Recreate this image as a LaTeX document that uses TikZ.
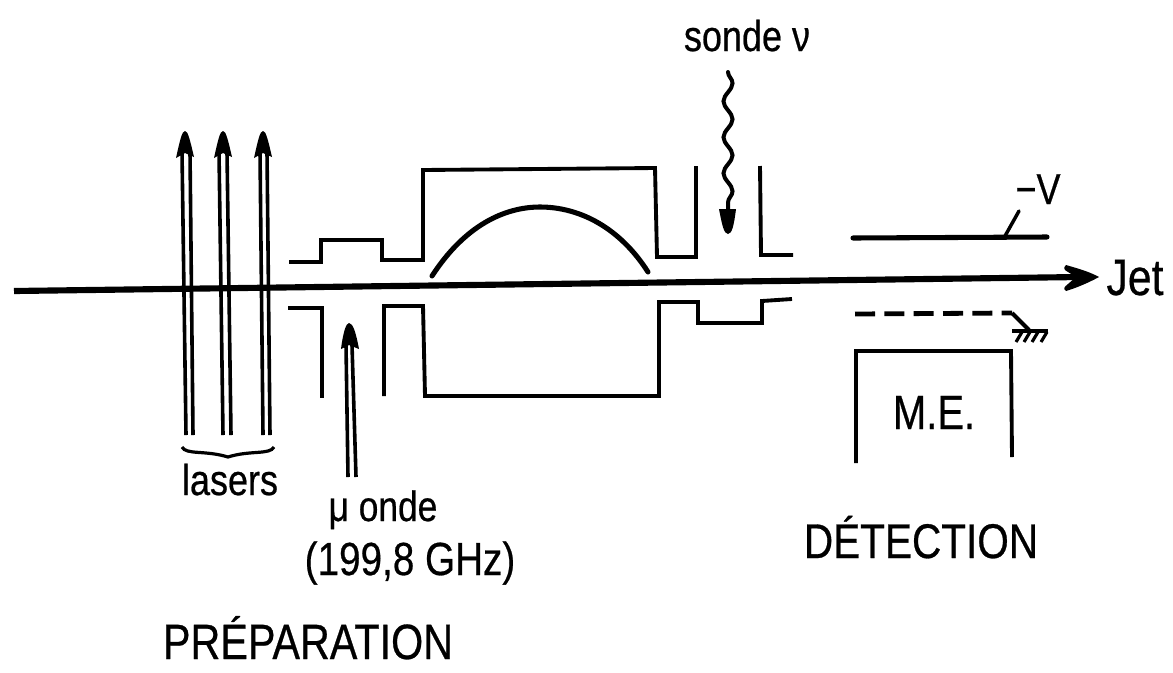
\documentclass[tikz,border=0pt]{standalone}
\usepackage{fontspec}
\setmainfont[FakeBold=0.6]{Liberation Sans}
\usetikzlibrary{decorations.pathmorphing}
\tikzset{
 wall/.style={line width=2.9pt,line join=miter},
 beam/.style={line width=2.7pt},
 thickline/.style={line width=3.8pt,line cap=round},
 lab/.style={inner sep=0,anchor=base,text=black,transform shape,yscale=1.2}
}
\begin{document}
\begin{tikzpicture}[x=0.75pt,y=-0.75pt]
\useasboundingbox (0,0) rectangle (1173,672);
\fill[white] (0,0) rectangle (1173,672);
% axis
\coordinate (js) at (14,291);
\coordinate (je) at (1099,277);
\draw[line width=4.6pt] (js) -- (1080,277);
\fill (je) .. controls (1088,271) and (1076,268) .. (1066,265) .. controls (1063,268) and (1064,270) .. (1068,272) -- (1076,277) -- (1068,284) .. controls (1064,287) and (1063,289) .. (1066,291) .. controls (1076,288) and (1088,283) .. (je) -- cycle;
% laser arrows
\foreach \n/\xa/\xb/\xc/\xd/\tip in {a/186/193/182/190/185,b/223/231/219/227/223,c/263/270/260/267/263}{
 \coordinate (\n1) at (\xa,435);
 \coordinate (\n2) at (\xb,435);
 \coordinate (\n3) at (\xc,152);
 \coordinate (\n4) at (\xd,152);
 \draw[beam] (\n1) -- (\n3);
 \draw[beam] (\n2) -- (\n4);
 \fill (\tip,131) .. controls (\tip+3,131) and (\tip+5,140) .. (\tip+9,157) -- (\tip,153) -- (\tip-9,158) .. controls (\tip-5,140) and (\tip-3,131) .. (\tip,131) -- cycle;
}
% upper electrodes
\draw[wall] (289,262) -- (321,262) -- (321,240) -- (382,240) -- (382,260) -- (423,260) -- (423,170) -- (655,168) -- (657,257) -- (696,257) -- (696,166);
\draw[wall] (760,166) -- (761,255) -- (793,255);
% lower electrodes
\draw[wall] (288,308) -- (322,308) -- (322,398);
\draw[wall] (384,396) -- (384,306) -- (423,306) -- (425,396) -- (659,396) -- (659,302) -- (698,302) -- (698,323) -- (762,323) -- (762,301) -- (792,299);
% microwave arrow
\coordinate (m1) at (348,477);
\coordinate (m2) at (356,477);
\draw[beam] (m1) -- (346,345);
\draw[beam] (m2) -- (352,345);
\fill (349,323) .. controls (353,323) and (356,333) .. (359,349) -- (349,345) -- (341,349) .. controls (343,333) and (346,323) .. (349,323) -- cycle;
% arc
\draw[line width=3.8pt,line cap=round] (432,276) .. controls (465,225) and (505,207) .. (540,207) .. controls (580,207) and (620,228) .. (648,272);
% probe wave
\coordinate (w1) at (728,72);
\coordinate (w2) at (728,212);
\draw[line width=3pt,line cap=round,decorate,decoration={snake,amplitude=3.4pt,segment length=27pt,post length=3pt}] (w1) -- (w2);
\fill (728,234) .. controls (724,234) and (722,225) .. (719,209) -- (736,209) .. controls (734,225) and (732,234) .. (728,234) -- cycle;
% detection plates
\coordinate (p1) at (853,238);
\coordinate (p2) at (1047,237);
\draw[thickline] (p1) -- (p2);
\coordinate (t1) at (1005,236);
\coordinate (t2) at (1019,211);
\draw[line width=2.6pt,line cap=round] (t1) -- (t2);
\coordinate (d1) at (855,314);
\coordinate (d2) at (1012,313);
\coordinate (d3) at (1029,330);
\draw[line width=3.6pt,dash pattern=on 15pt off 7pt] (d1) -- (d2);
\draw[line width=3pt] (d2) -- (d3);
\coordinate (g1) at (1012,331);
\coordinate (g2) at (1048,331);
\draw[line width=3.2pt] (g1) -- (g2);
\foreach \x in {1022,1030,1038,1047}{\draw[line width=2.4pt] (\x,332) -- (\x-6,342);}
% M.E. box
\draw[wall] (856,463) -- (856,351) -- (1011,351) -- (1012,457);
% brace
\draw[line width=2.4pt] (182,447) .. controls (186,455) and (205,450) .. (228,457) .. controls (250,450) and (270,455) .. (274,447);
% labels
\node[lab,font=\fontsize{27}{27}\selectfont] (sonde) at (747,51) {sonde ν};
\node[lab,font=\fontsize{27}{27}\selectfont] (mv) at (1038,204) {−V};
\node[lab,font=\fontsize{32}{32}\selectfont] (jet) at (1135,295) {Jet};
\node[lab,font=\fontsize{30}{30}\selectfont] (me) at (934,429) {M.E.};
\node[lab,font=\fontsize{27}{27}\selectfont] (las) at (230,495) {lasers};
\node[lab,font=\fontsize{26.5}{27}\selectfont] (mu) at (383,521) {μ onde};
\node[lab,font=\fontsize{29}{29}\selectfont] (ghz) at (410,575) {(199,8 GHz)};
\node[lab,font=\fontsize{30.4}{31}\selectfont] (det) at (921,558) {DÉTECTION};
\node[lab,font=\fontsize{31}{31}\selectfont] (pre) at (308,659) {PRÉPARATION};
\end{tikzpicture}
\end{document}
